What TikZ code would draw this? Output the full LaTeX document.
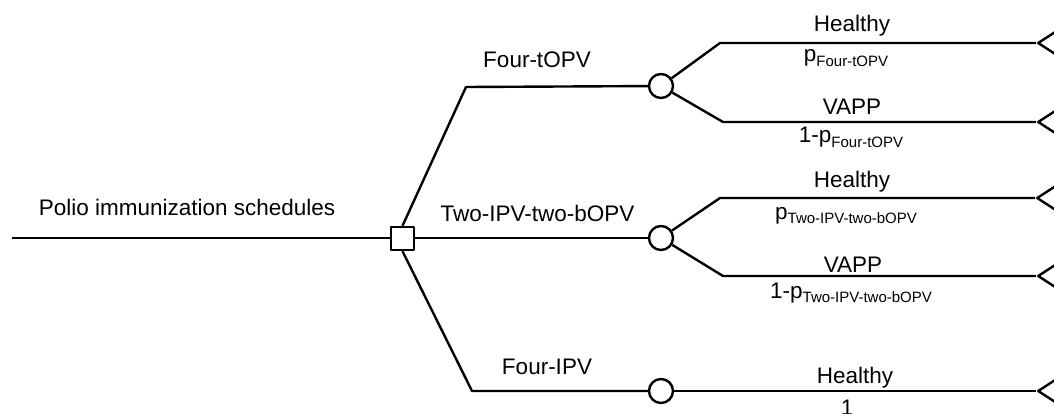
\documentclass[tikz,border=0pt]{standalone}
\usepackage{fontspec}
\setmainfont{Liberation Sans}
\usetikzlibrary{shapes.geometric}
\newcommand{\subf}[1]{\raisebox{-4.5pt}{\fontsize{15}{18}\selectfont #1}}
\begin{document}
\begin{tikzpicture}[x=1pt,y=-1pt,line width=2.4pt,line join=round,
  every node/.style={font=\fontsize{22.5}{27}\selectfont},
  decision/.style={draw,rectangle,minimum size=23pt,inner sep=0pt,fill=white},
  chance/.style={draw,circle,minimum size=24pt,inner sep=0pt,fill=white},
  terminal/.style={draw,isosceles triangle,isosceles triangle apex angle=66,
    shape border rotate=180,minimum height=40pt,minimum width=40pt,inner sep=0pt,anchor=apex},
  lbl/.style={anchor=base,inner sep=0pt}]
\useasboundingbox (0,0) rectangle (1054,414);
% nodes
\coordinate (r0) at (12,238);
\node[decision] (d) at (402.5,238.5) {};
\node[chance] (c1) at (661,86) {};
\node[chance] (c2) at (661,238) {};
\node[chance] (c3) at (661,391) {};
\node[terminal] (t1) at (1036,43) {};
\node[terminal] (t2) at (1036,122) {};
\node[terminal] (t3) at (1035,198) {};
\node[terminal] (t4) at (1036,276) {};
\node[terminal] (t5) at (1036,391) {};
% connectors
\draw (r0) -- (d.west |- r0);
\draw (d.north) -- (466,87) -- (c1);
\draw (d.east |- c2) -- (c2);
\draw (d.south) -- (472,391) -- (c3);
\draw (c1) -- (720,43) -- (t1);
\draw (c1) -- (723,122) -- (t2);
\draw (c2) -- (720,198) -- (t3);
\draw (c2) -- (723,276) -- (t4);
\draw (c3) -- (t5);
% labels
\node[lbl] (lroot) at (187,215) {Polio immunization schedules};
\node[lbl] (lb1) at (537,68) {Four-tOPV};
\node[lbl] (lb2) at (537.5,222) {Two-IPV-two-bOPV};
\node[lbl] (lb3) at (547,374) {Four-IPV};
\node[lbl] (h1) at (852,32) {Healthy};
\node[lbl] (p1) at (846,62) {p\subf{Four-tOPV}};
\node[lbl] (v1) at (852,115) {VAPP};
\node[lbl] (q1) at (851,143) {1-p\subf{Four-tOPV}};
\node[lbl] (h2) at (852,188) {Healthy};
\node[lbl] (p2) at (846,219) {p\subf{Two-IPV-two-bOPV}};
\node[lbl] (v2) at (853,272) {VAPP};
\node[lbl] (q2) at (851,298) {1-p\subf{Two-IPV-two-bOPV}};
\node[lbl] (h3) at (855,383) {Healthy};
\node[lbl] (o3) at (847,415) {1};
\end{tikzpicture}
\end{document}
